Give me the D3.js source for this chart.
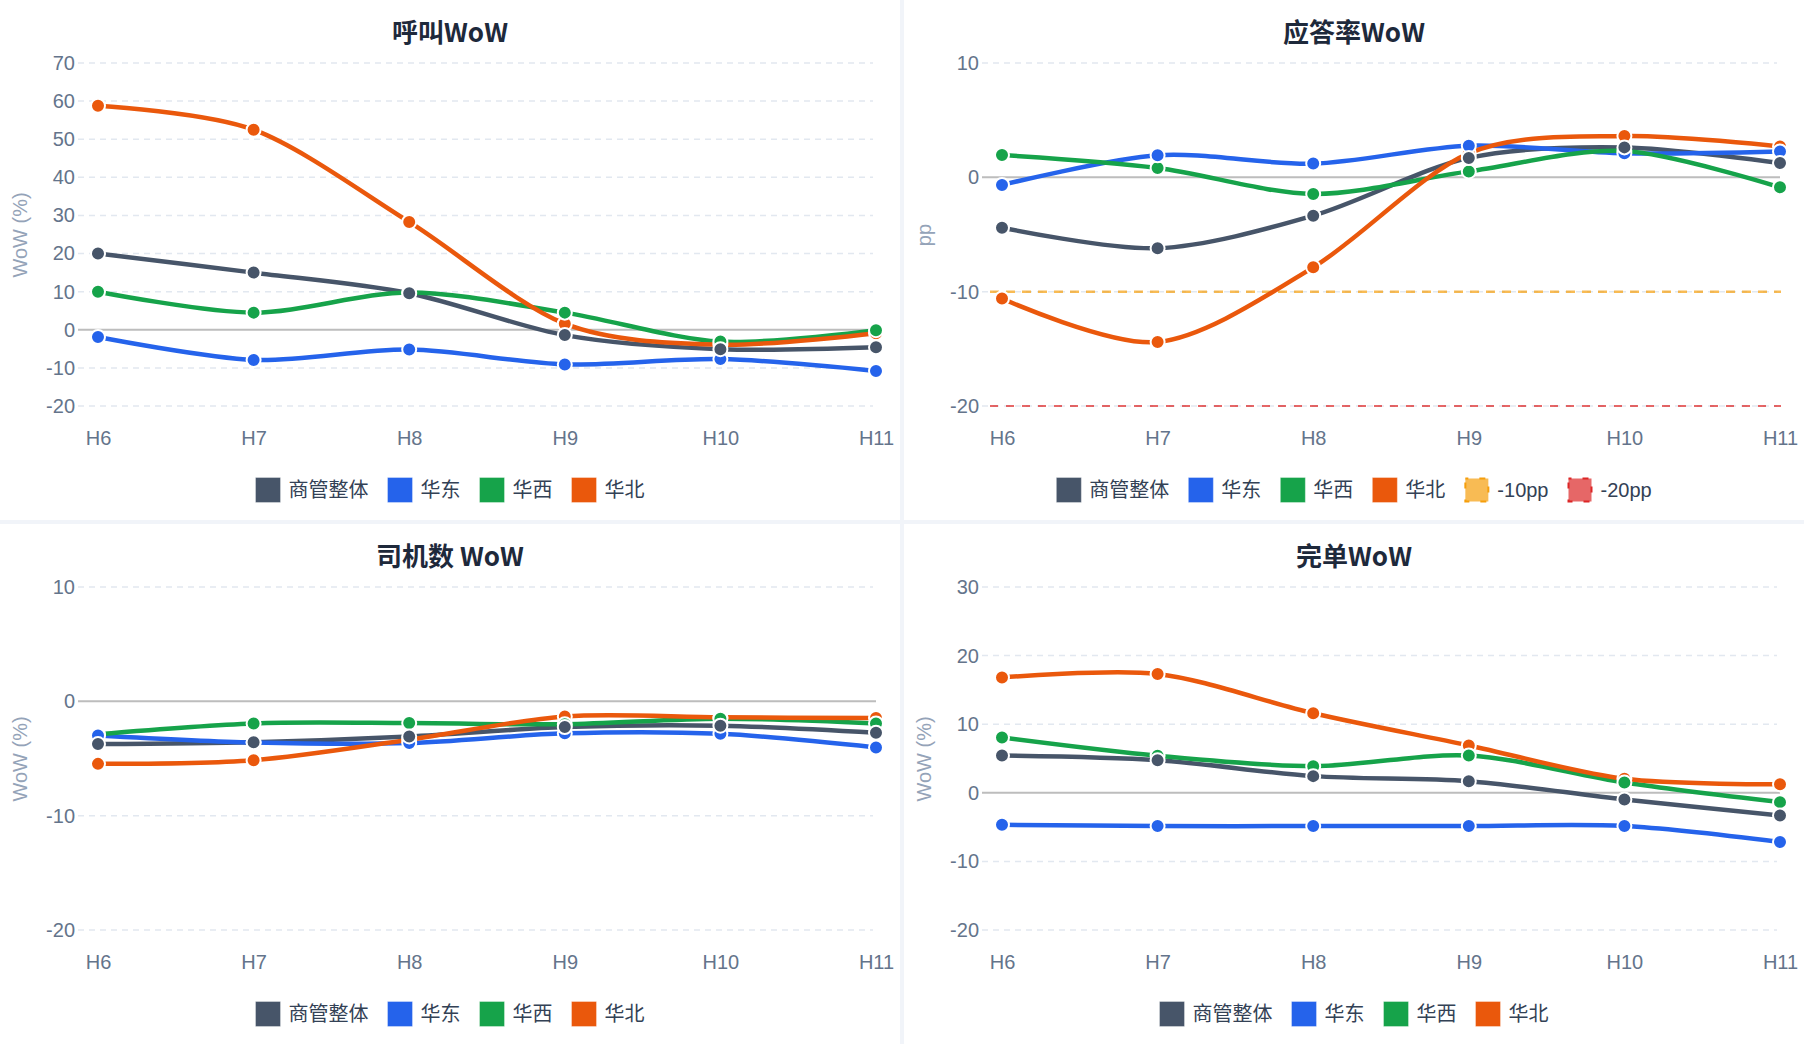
<!DOCTYPE html>
<html>
<head>
<meta charset="utf-8">
<script src="https://cdn.jsdelivr.net/npm/d3@7"></script>
<style>
  html, body { margin: 0; padding: 0; background: #f1f4f9; }
  svg { display: block; }
  text { font-family: "Liberation Sans", Arial, "Noto Sans CJK SC", sans-serif; }
</style>
</head>
<body>
<div id="container"></div>
<script>
const hours = ["H6", "H7", "H8", "H9", "H10", "H11"];
const seriesNames = ["商管整体", "华东", "华西", "华北"];

// 呼叫WoW (%)
const callTotal = [20, 15, 9.6, -1.4, -5.1, -4.6];
const callEast = [-1.9, -7.9, -5.2, -9.1, -7.7, -10.8];
const callWest = [10, 4.5, 9.8, 4.5, -3.1, -0.1];
const callNorth = [58.8, 52.5, 28.3, 1.6, -3.9, -0.9];
const callTicks = [70, 60, 50, 40, 30, 20, 10, 0, -10, -20];

// 应答率WoW (pp)
const answerTotal = [-4.4, -6.2, -3.35, 1.7, 2.62, 1.25];
const answerEast = [-0.67, 1.93, 1.2, 2.77, 2.1, 2.27];
const answerWest = [1.95, 0.82, -1.45, 0.52, 2.3, -0.87];
const answerNorth = [-10.6, -14.4, -7.87, 2.1, 3.62, 2.7];
const answerTicks = [10, 0, -10, -20];
const answerRefNames = ["-10pp", "-20pp"];
const answerRefValues = [-10, -20];

// 司机数 WoW (%)
const driverTotal = [-3.74, -3.57, -3.07, -2.25, -2.13, -2.75];
const driverEast = [-2.98, -3.6, -3.65, -2.8, -2.84, -4.03];
const driverWest = [-2.87, -1.93, -1.9, -2.0, -1.52, -1.93];
const driverNorth = [-5.47, -5.15, -3.36, -1.32, -1.4, -1.46];
const driverTicks = [10, 0, -10, -20];

// 完单WoW (%)
const orderTotal = [5.44, 4.76, 2.43, 1.7, -0.97, -3.3];
const orderEast = [-4.66, -4.85, -4.85, -4.85, -4.85, -7.18];
const orderWest = [8.06, 5.4, 3.88, 5.44, 1.5, -1.36];
const orderNorth = [16.8, 17.33, 11.6, 6.9, 2.04, 1.26];
const orderTicks = [30, 20, 10, 0, -10, -20];

const colors = ["#475569", "#2563eb", "#16a34a", "#ea580c"];
const refColors = ["#f59e0b", "#dc2626"];

const W = 1804, H = 1044, gap = 4;
const pw = (W - gap) / 2, ph = (H - gap) / 2; // panel size

const panels = [
  { title: "呼叫WoW", yName: "WoW (%)", ticks: callTicks, series: [callTotal, callEast, callWest, callNorth], x: 0, y: 0 },
  { title: "应答率WoW", yName: "pp", ticks: answerTicks, series: [answerTotal, answerEast, answerWest, answerNorth], refs: true, x: pw + gap, y: 0 },
  { title: "司机数 WoW", yName: "WoW (%)", ticks: driverTicks, series: [driverTotal, driverEast, driverWest, driverNorth], x: 0, y: ph + gap },
  { title: "完单WoW", yName: "WoW (%)", ticks: orderTicks, series: [orderTotal, orderEast, orderWest, orderNorth], x: pw + gap, y: ph + gap }
];

const svg = d3.select("#container").append("svg").attr("width", W).attr("height", H);

const gridLeft = 78, gridRight = 873, plotTop = 63, plotBottom = 406;

panels.forEach((p) => {
  const g = svg.append("g").attr("transform", `translate(${p.x}, ${p.y})`);
  g.append("rect").attr("width", pw).attr("height", ph).attr("fill", "#fff");

  const xScale = d3.scalePoint().domain(hours).range([98, 876]);
  const yScale = d3.scaleLinear().domain([d3.min(p.ticks), d3.max(p.ticks)]).range([plotBottom, plotTop]);

  // title
  g.append("text").attr("x", pw / 2).attr("y", 42).attr("text-anchor", "middle")
    .attr("font-size", 26).attr("font-weight", "bold").attr("fill", "#1e293b")
    .style("font-family", "'Noto Sans CJK SC', sans-serif").text(p.title);

  // grid lines
  g.selectAll(".grid").data(p.ticks.filter((t) => t !== 0)).enter().append("line")
    .attr("x1", gridLeft).attr("x2", gridRight)
    .attr("y1", (d) => yScale(d)).attr("y2", (d) => yScale(d))
    .attr("stroke", "#e2e8f0").attr("stroke-width", 1.5).attr("stroke-dasharray", "6 5");

  // zero line
  g.append("line").attr("x1", gridLeft).attr("x2", 876)
    .attr("y1", yScale(0)).attr("y2", yScale(0))
    .attr("stroke", "#bdbdbd").attr("stroke-width", 2);

  // y axis
  const yAxis = d3.axisLeft(yScale).tickValues(p.ticks).tickSize(0).tickPadding(0).tickFormat((d) => String(d));
  const ya = g.append("g").attr("transform", `translate(${gridLeft - 3}, 0)`).call(yAxis);
  ya.select(".domain").remove();
  ya.selectAll("text").attr("font-size", 20).attr("fill", "#64748b")
    .style("font-family", "'Liberation Sans', Arial, sans-serif");

  // x axis
  const xAxis = d3.axisBottom(xScale).tickSize(0).tickPadding(0);
  const xa = g.append("g").attr("transform", `translate(0, 431)`).call(xAxis);
  xa.select(".domain").remove();
  xa.selectAll("text").attr("font-size", 20).attr("fill", "#64748b")
    .style("font-family", "'Liberation Sans', Arial, sans-serif");

  // y axis name
  g.append("text").attr("transform", `translate(27, 235) rotate(-90)`).attr("text-anchor", "middle")
    .attr("font-size", 20).attr("fill", "#94a3b8").text(p.yName);

  // reference lines
  if (p.refs) {
    answerRefValues.forEach((v, i) => {
      g.append("line").attr("x1", 86).attr("x2", 877)
        .attr("y1", yScale(v)).attr("y2", yScale(v))
        .attr("stroke", refColors[i]).attr("stroke-opacity", 0.7)
        .attr("stroke-width", i === 0 ? 2.5 : 1.8)
        .attr("stroke-dasharray", i === 0 ? "9 7" : "8 8");
    });
  }

  const line = d3.line().x((d, i) => xScale(hours[i])).y((d) => yScale(d)).curve(d3.curveCardinal.tension(0.1));

  p.series.forEach((s, si) => {
    g.append("path").datum(s).attr("d", line).attr("fill", "none")
      .attr("stroke", colors[si]).attr("stroke-width", 4.5).attr("stroke-linecap", "round");
  });

  [3, 2, 1, 0].forEach((si) => {
    g.selectAll(null).data(p.series[si]).enter().append("circle")
      .attr("cx", (d, i) => xScale(hours[i])).attr("cy", (d) => yScale(d))
      .attr("r", 7).attr("fill", colors[si]).attr("stroke", "#fff").attr("stroke-width", 2);
  });

  // legend
  const items = seriesNames.map((n, i) => ({ name: n, color: colors[i], ref: false }));
  if (p.refs) answerRefNames.forEach((n, i) => items.push({ name: n, color: refColors[i], ref: true }));
  const lg = g.append("g");
  let cx = 0;
  items.forEach((it) => {
    const ig = lg.append("g").attr("transform", `translate(${cx}, 0)`);
    if (it.ref) {
      ig.append("rect").attr("x", 1).attr("y", -12.5 + 1).attr("width", 23).attr("height", 23)
        .attr("fill", it.color).attr("fill-opacity", 0.7)
        .attr("stroke", it.color).attr("stroke-width", 2).attr("stroke-dasharray", "6 11").attr("stroke-dashoffset", 3);
    } else {
      ig.append("rect").attr("x", 0).attr("y", -12.5).attr("width", 25).attr("height", 25)
        .attr("fill", it.color).attr("stroke", "#fff").attr("stroke-opacity", 0.35).attr("stroke-width", 1);
    }
    const t = ig.append("text").attr("x", 33).attr("y", 7).attr("font-size", 20).attr("fill", "#334155").text(it.name);
    cx += 33 + t.node().getComputedTextLength() + 19;
  });
  const lw = cx - 19;
  lg.attr("transform", `translate(${pw / 2 - lw / 2}, 490)`);
});
</script>
</body>
</html>
